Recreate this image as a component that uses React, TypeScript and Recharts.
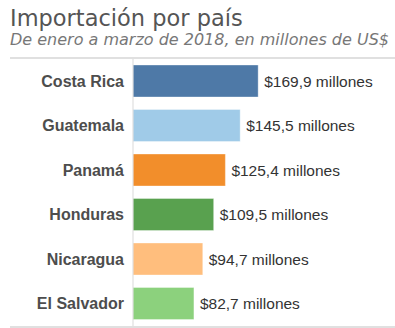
import { BarChart, Bar, XAxis, YAxis, Cell, LabelList } from 'recharts';

const countries = ['Costa Rica', 'Guatemala', 'Panamá', 'Honduras', 'Nicaragua', 'El Salvador'];
const imports = [169.9, 145.5, 125.4, 109.5, 94.7, 82.7];
const barColors = ['#4e79a7', '#a0cbe8', '#f28e2b', '#59a14f', '#ffbe7d', '#8cd17d'];

const data = countries.map((name, i) => ({ name, value: imports[i] }));

const formatValue = (v: number) => `$${v.toFixed(1).replace('.', ',')} millones`;

export default function App() {
  return (
    <div style={{ position: 'absolute', left: 0, top: 0, width: 395, height: 328, background: '#fff', overflow: 'hidden' }}>
      <div
        style={{
          position: 'absolute',
          left: 10,
          top: 5,
          fontFamily: 'DejaVu Sans, sans-serif',
          fontSize: 22.5,
          color: '#555',
          whiteSpace: 'nowrap',
        }}
      >
        Importación por país
      </div>
      <div
        style={{
          position: 'absolute',
          left: 10,
          top: 30,
          fontFamily: 'DejaVu Sans, sans-serif',
          fontStyle: 'italic',
          fontSize: 16,
          color: '#777',
          whiteSpace: 'nowrap',
        }}
      >
        De enero a marzo de 2018, en millones de US$
      </div>

      {/* lineas de marco */}
      <div style={{ position: 'absolute', left: 10, top: 57, width: 385, height: 2, background: '#e0e0e0' }} />
      <div style={{ position: 'absolute', left: 10, top: 326, width: 385, height: 2, background: '#e0e0e0' }} />

      <div style={{ position: 'absolute', left: 0, top: 59 }}>
        <BarChart
          layout="vertical"
          width={395}
          height={267}
          data={data}
          margin={{ top: 0, right: 41, bottom: 0, left: 0 }}
          barCategoryGap={12}
        >
          <XAxis type="number" domain={[0, 300]} hide />
          <YAxis
            type="category"
            dataKey="name"
            width={133}
            axisLine={{ stroke: '#d9d9d9' }}
            tickLine={false}
            tickSize={0}
            tickMargin={9}
            tick={{ fill: '#4d4d4d', fontSize: 16, fontWeight: 'bold', fontFamily: 'Liberation Sans, Arial, sans-serif' }}
          />
          <Bar dataKey="value" barSize={32} isAnimationActive={false} stroke="rgba(255,255,255,0.35)">
            {data.map((_entry, index) => (
              <Cell key={`cell-${index}`} fill={barColors[index]} />
            ))}
            <LabelList
              dataKey="value"
              position="right"
              offset={6}
              formatter={(v: any) => formatValue(Number(v))}
              style={{ fill: '#333', fontSize: 15.5, fontFamily: 'Liberation Sans, Arial, sans-serif' }}
            />
          </Bar>
        </BarChart>
      </div>
    </div>
  );
}
